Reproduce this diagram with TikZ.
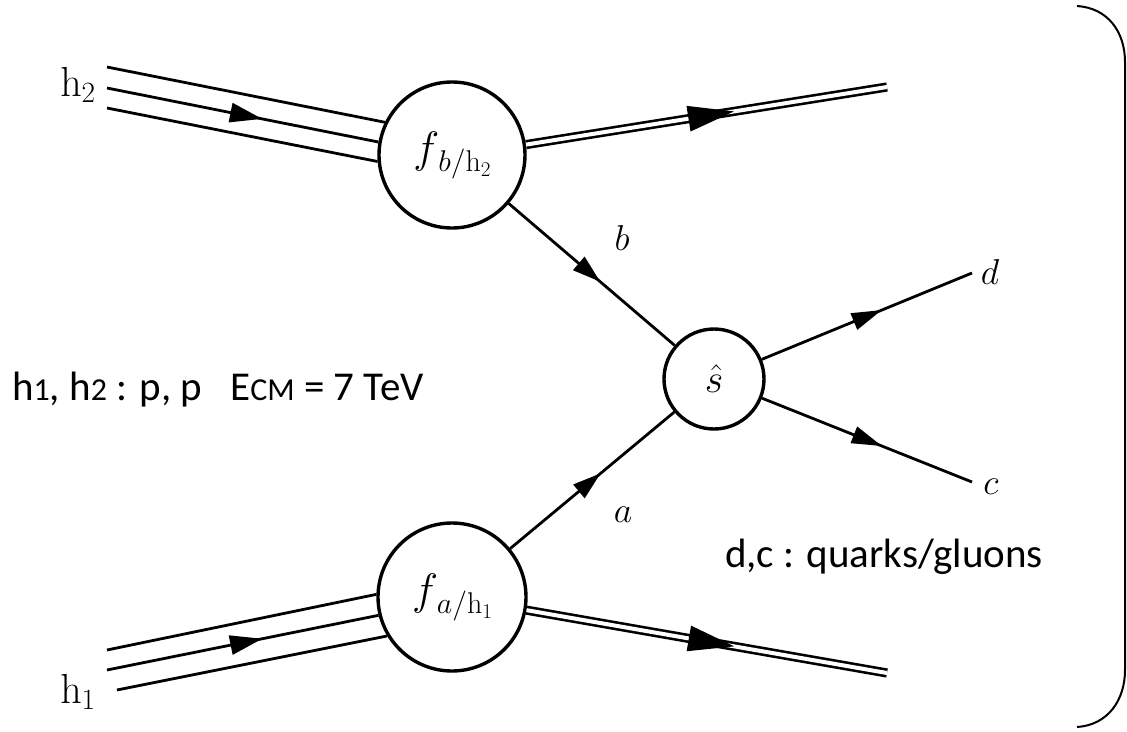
\RequirePackage{fix-cm}
\documentclass[tikz,border=0pt]{standalone}
\usepackage[no-math]{fontspec}
\newfontfamily\calib{Carlito}
\usetikzlibrary{decorations.markings}
\newcommand\smsub[1]{{\fontsize{32}{32}\selectfont #1}}
\newcommand\pdflab[2]{{\fontsize{44}{44}\selectfont$f$}\kern-1pt\raisebox{-9pt}{\fontsize{30}{30}\selectfont$#1/\mathrm{h}$\raisebox{-5pt}{\fontsize{21}{21}\selectfont #2}}}
\tikzset{
  blob/.style={circle, draw, line width=3.4pt, fill=white, inner sep=0pt},
  prop/.style={line width=2.8pt},
  dbl/.style={line width=2.6pt, double, double distance=4pt},
  tipat/.style n args={3}{postaction={decorate}, decoration={markings,
      mark=at position #1 with {\fill (-#2,-#3) -- (0pt,0pt) -- (-#2,#3) -- cycle;}}},
  mlabel/.style={inner sep=0pt, font=\fontsize{36}{36}\selectfont},
  hlabel/.style={inner sep=0pt, font=\fontsize{42}{42}\selectfont},
  txt/.style={inner sep=0pt, anchor=base west, font=\calib\fontsize{41}{41}\selectfont},
}
\begin{document}
\begin{tikzpicture}[x=1pt,y=-1pt]
\useasboundingbox (0,0) rectangle (1127,731);
% blobs
\node[blob, minimum size=146pt] (fT) at (452,155) {\pdflab{b}{2}};
\node[blob, minimum size=148pt] (fB) at (452,597) {\pdflab{a}{1}};
\node[blob, minimum size=100pt] (s) at (714,379) {\fontsize{40}{40}\selectfont$\hat{s}$};
% free ends
\coordinate (h2a) at (107,67);
\coordinate (h2b) at (107,88);
\coordinate (h2c) at (107,108);
\coordinate (h1a) at (107,650);
\coordinate (h1b) at (107,670);
\coordinate (h1c) at (117,690);
\coordinate (oT) at (887,87);
\coordinate (oB) at (887,673);
\coordinate (dE) at (972,273);
\coordinate (cE) at (972,482);
% incoming hadrons
\draw[prop] (h2a) -- (fT.154);
\draw[prop, tipat={0.571}{32pt}{10pt}] (h2b) -- (fT.170);
\draw[prop] (h2c) -- (fT.185.5);
\draw[prop] (h1a) -- (fB.178.5);
\draw[prop, tipat={0.571}{32pt}{10pt}] (h1b) -- (fB.194);
\draw[prop] (h1c) -- (fB.211);
% remnants
\draw[dbl, tipat={0.576}{46pt}{13pt}] (fT.8) -- (oT);
\draw[dbl, tipat={0.576}{46pt}{13pt}] (fB.-10) -- (oB);
% partons
\draw[prop, tipat={0.55}{28pt}{9pt}] (fT) -- (s);
\draw[prop, tipat={0.55}{28pt}{9pt}] (fB) -- (s);
\draw[prop, tipat={0.57}{30pt}{9pt}] (s) -- (dE);
\draw[prop, tipat={0.57}{30pt}{9pt}] (s) -- (cE);
% labels
\node[hlabel] (lh2) at (78,85) {$\mathrm{h}_2$};
\node[hlabel] (lh1) at (78,692) {$\mathrm{h}_1$};
\node[mlabel] (lb) at (622,238) {$b$};
\node[mlabel] (la) at (623,515) {$a$};
\node[mlabel] (ld) at (990,272) {$d$};
\node[mlabel] (lc) at (991,487) {$c$};
% texts
\node[txt] (info) at (12,400) {h\smsub{1}, h\smsub{2} : p, p\hspace{28pt}E\smsub{CM} = 7 TeV};
\node[txt] (dc) at (725,567) {d,c : quarks/gluons};
% bracket
\coordinate (brT) at (1077,6);
\coordinate (brB) at (1077,727);
\draw[line width=2pt] (brT) .. controls (1108,8) and (1125,32) .. (1125,62) -- (1125,670) .. controls (1125,700) and (1108,725) .. (brB);
\end{tikzpicture}
\end{document}
